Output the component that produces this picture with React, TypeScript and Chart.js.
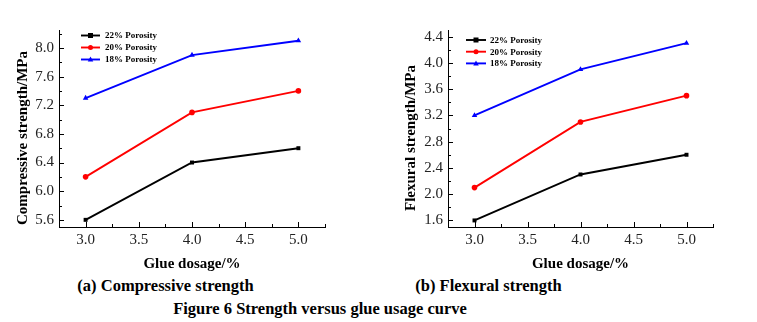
import React, { useEffect, useRef } from "react";
import { Chart, registerables } from "chart.js";

Chart.register(...registerables);

// ---------- data ----------
const glueDosage = [3.0, 4.0, 5.0];
const seriesLabels = ["22% Porosity", "20% Porosity", "18% Porosity"];
const compressive22 = [5.6, 6.4, 6.6];
const compressive20 = [6.2, 7.1, 7.4];
const compressive18 = [7.3, 7.9, 8.1];
const flexural22 = [1.6, 2.3, 2.6];
const flexural20 = [2.1, 3.1, 3.5];
const flexural18 = [3.2, 3.9, 4.3];
const xTickValues = [3.0, 3.5, 4.0, 4.5, 5.0];
const compressiveTicks = [5.6, 6.0, 6.4, 6.8, 7.2, 7.6, 8.0];
const flexuralTicks = [1.6, 2.0, 2.4, 2.8, 3.2, 3.6, 4.0, 4.4];

const seriesColors = ["#000000", "#ff0000", "#0000ff"];
const seriesMarkers = ["rect", "circle", "triangle"];

const SERIF = "'Liberation Serif', 'Times New Roman', serif";

function drawMarker(ctx: CanvasRenderingContext2D, style: string, x: number, y: number, r: number, color: string) {
  ctx.fillStyle = color;
  ctx.beginPath();
  if (style === "rect") {
    ctx.rect(x - r, y - r, 2 * r, 2 * r);
  } else if (style === "circle") {
    ctx.arc(x, y, r, 0, Math.PI * 2);
  } else {
    ctx.moveTo(x, y - r * 1.2);
    ctx.lineTo(x + r * 1.1, y + r * 0.8);
    ctx.lineTo(x - r * 1.1, y + r * 0.8);
    ctx.closePath();
  }
  ctx.fill();
}

function minorValues(ticks: number[], min: number, max: number) {
  const step = ticks[1] - ticks[0];
  const vals = [ticks[0] - step / 2, ...ticks.map((v) => v + step / 2)];
  return vals.filter((v) => v >= min - 1e-6 && v <= max + 1e-6);
}

const decorPlugin = {
  id: "decor",
  afterDraw(chart: any, _args: any, opts: any) {
    const { ctx, chartArea } = chart;
    const xs = chart.scales.x;
    const ys = chart.scales.y;
    ctx.save();
    // inward ticks
    ctx.strokeStyle = "#000";
    ctx.lineWidth = 1;
    ctx.beginPath();
    const xMaj = xs.ticks.map((t: any) => t.value);
    const yMaj = ys.ticks.map((t: any) => t.value);
    xMaj.forEach((v: number) => {
      const px = Math.round(xs.getPixelForValue(v)) + 0.5;
      ctx.moveTo(px, chartArea.bottom);
      ctx.lineTo(px, chartArea.bottom - 5);
    });
    minorValues(xMaj, xs.min, xs.max).forEach((v: number) => {
      const px = Math.round(xs.getPixelForValue(v)) + 0.5;
      ctx.moveTo(px, chartArea.bottom);
      ctx.lineTo(px, chartArea.bottom - 3);
    });
    yMaj.forEach((v: number) => {
      const py = Math.round(ys.getPixelForValue(v)) + 0.5;
      ctx.moveTo(chartArea.left, py);
      ctx.lineTo(chartArea.left + 5, py);
    });
    minorValues(yMaj, ys.min, ys.max).forEach((v: number) => {
      const py = Math.round(ys.getPixelForValue(v)) + 0.5;
      ctx.moveTo(chartArea.left, py);
      ctx.lineTo(chartArea.left + 3, py);
    });
    ctx.stroke();

    // y-axis title
    ctx.save();
    ctx.translate(opts.yTitleX, opts.yTitleY);
    ctx.rotate(-Math.PI / 2);
    ctx.font = `bold ${opts.yTitleSize}px ${SERIF}`;
    ctx.fillStyle = "#000";
    ctx.textAlign = "center";
    ctx.textBaseline = "middle";
    ctx.fillText(opts.yTitle, 0, 0);
    ctx.restore();

    // legend
    chart.data.datasets.forEach((ds: any, i: number) => {
      const y = opts.legendY + i * opts.legendGap;
      const x0 = opts.legendX;
      const x1 = x0 + opts.legendLine;
      ctx.strokeStyle = ds.borderColor;
      ctx.lineWidth = ds.borderWidth;
      ctx.beginPath();
      ctx.moveTo(x0, y);
      ctx.lineTo(x1, y);
      ctx.stroke();
      drawMarker(ctx, ds.pointStyle, (x0 + x1) / 2, y, 2.5, ds.borderColor);
      ctx.fillStyle = "#000";
      ctx.font = `bold 9px ${SERIF}`;
      ctx.textAlign = "left";
      ctx.textBaseline = "middle";
      ctx.fillText(ds.label, x1 + opts.legendTextGap, y + 0.5);
    });
    ctx.restore();
  },
};

function buildDatasets(series: number[][]) {
  return series.map((vals, i) => ({
    label: seriesLabels[i],
    data: glueDosage.map((x, j) => ({ x, y: vals[j] })),
    borderColor: seriesColors[i],
    backgroundColor: seriesColors[i],
    borderWidth: 1.9,
    pointStyle: seriesMarkers[i],
    pointRadius: i === 2 ? 3.2 : 2.8,
    pointBorderWidth: 0,
    tension: 0,
  }));
}

type PanelProps = {
  width: number;
  height: number;
  left: number;
  series: number[][];
  yTicks: number[];
  yMin: number;
  yMax: number;
  yAxisWidth: number;
  rightPad: number;
  decor: any;
};

function Panel(p: PanelProps) {
  const ref = useRef<HTMLCanvasElement | null>(null);
  useEffect(() => {
    if (!ref.current) return;
    const chart = new Chart(ref.current, {
      type: "line",
      data: { datasets: buildDatasets(p.series) as any },
      plugins: [decorPlugin as any],
      options: {
        animation: false,
        responsive: false,
        devicePixelRatio: 1,
        layout: { padding: { top: 30, right: p.rightPad, left: 0, bottom: 0 } },
        plugins: {
          legend: { display: false },
          tooltip: { enabled: false },
          decor: p.decor,
        } as any,
        scales: {
          x: {
            type: "linear",
            min: 2.75,
            max: 5.25,
            afterBuildTicks: (s: any) => {
              s.ticks = xTickValues.map((v) => ({ value: v }));
            },
            afterFit: (s: any) => {
              s.height = 46;
            },
            grid: { display: false, drawTicks: false },
            border: { display: true, color: "#000", width: 1 },
            ticks: {
              padding: 4,
              color: "#222",
              font: { family: SERIF, size: 15 },
              callback: (v: any) => Number(v).toFixed(1),
            },
            title: {
              display: true,
              text: "Glue dosage/%",
              color: "#000",
              padding: 0,
              font: { family: SERIF, size: 15, weight: "bold" },
            },
          },
          y: {
            type: "linear",
            min: p.yMin,
            max: p.yMax,
            afterBuildTicks: (s: any) => {
              s.ticks = p.yTicks.map((v) => ({ value: v }));
            },
            afterFit: (s: any) => {
              s.width = p.yAxisWidth;
            },
            grid: { display: false, drawTicks: false },
            border: { display: true, color: "#000", width: 1 },
            ticks: {
              padding: 5,
              color: "#222",
              font: { family: SERIF, size: 15 },
              callback: (v: any) => Number(v).toFixed(1),
            },
            title: { display: false },
          },
        },
      } as any,
    });
    return () => chart.destroy();
  }, []);
  return (
    <div style={{ position: "absolute", left: p.left, top: 0, width: p.width, height: p.height }}>
      <canvas ref={ref} width={p.width} height={p.height} style={{ width: p.width, height: p.height, display: "block" }} />
    </div>
  );
}

const captionStyle = (cx: number, top: number, size: number): React.CSSProperties => ({
  position: "absolute",
  left: cx,
  top,
  transform: "translateX(-50%)",
  whiteSpace: "nowrap",
  fontFamily: SERIF,
  fontWeight: "bold",
  fontSize: size,
  lineHeight: `${size}px`,
  color: "#000",
});

export default function App() {
  return (
    <div style={{ position: "fixed", left: 0, top: 0, width: 757, height: 322, background: "#fff", overflow: "hidden" }}>
      <Panel
        width={340}
        height={273}
        left={0}
        series={[compressive22, compressive20, compressive18]}
        yTicks={compressiveTicks}
        yMin={5.5}
        yMax={8.25}
        yAxisWidth={59}
        rightPad={15}
        decor={{
          yTitle: "Compressive strength/MPa",
          yTitleX: 23,
          yTitleY: 138,
          yTitleSize: 15,
          legendX: 81,
          legendY: 35.5,
          legendGap: 12,
          legendLine: 19,
          legendTextGap: 5,
        }}
      />
      <Panel
        width={377}
        height={273}
        left={380}
        series={[flexural22, flexural20, flexural18]}
        yTicks={flexuralTicks}
        yMin={1.5}
        yMax={4.5}
        yAxisWidth={68}
        rightPad={44}
        decor={{
          yTitle: "Flexural strength/MPa",
          yTitleX: 31,
          yTitleY: 138,
          yTitleSize: 15,
          legendX: 86,
          legendY: 40,
          legendGap: 11.7,
          legendLine: 20,
          legendTextGap: 4,
        }}
      />
      <div style={captionStyle(165.5, 278, 16.5)}>(a) Compressive strength</div>
      <div style={captionStyle(488.5, 278, 16.5)}>(b) Flexural strength</div>
      <div style={captionStyle(320, 301, 16.5)}>Figure 6 Strength versus glue usage curve</div>
    </div>
  );
}
